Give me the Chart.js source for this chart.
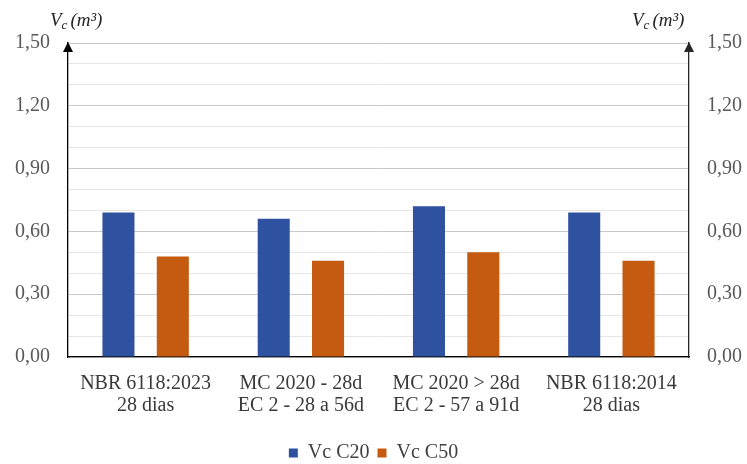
<!DOCTYPE html>
<html>
<head>
<meta charset="utf-8">
<script src="https://cdn.jsdelivr.net/npm/chart.js@4.4.1/dist/chart.umd.min.js"></script>
<style>
  html, body { margin: 0; padding: 0; background: #ffffff; }
  #wrap { width: 747px; height: 464px; }
</style>
</head>
<body>
<div id="wrap"><canvas id="chart" width="747" height="464"></canvas></div>
<script>
// Categories (two-line labels) and the Vc values for each concrete class
const categories = [
  ['NBR 6118:2023', '28 dias'],
  ['MC 2020 - 28d', 'EC 2 - 28 a 56d'],
  ['MC 2020 > 28d', 'EC 2 - 57 a 91d'],
  ['NBR 6118:2014', '28 dias']
];
const vcC20 = [0.69, 0.66, 0.72, 0.69];
const vcC50 = [0.48, 0.46, 0.50, 0.46];
const seriesNames = ['Vc C20', 'Vc C50'];
const axisMin = 0;
const axisMax = 1.5;
const gridStep = 0.10;
const labelStep = 0.30;

const FONT = '"Liberation Serif", "Times New Roman", serif';
const BLUE = '#2e51a0';
const ORANGE = '#c55a11';

function fmtTick(value) {
  const hundredths = Math.round(value * 100);
  if (hundredths % Math.round(labelStep * 100) !== 0) return '';
  return (hundredths / 100).toFixed(2).replace('.', ',');
}

// Fixed tick positions every gridStep (labels only every labelStep)
function fixedTicks(scale) {
  const n = Math.round((axisMax - axisMin) / gridStep);
  const ticks = [];
  for (let i = 0; i <= n; i++) ticks.push({ value: +(axisMin + i * gridStep).toFixed(2) });
  scale.ticks = ticks;
}

// Arrowheads on both vertical axes and the italic "Vc (m³)" titles above them
const axisDecor = {
  id: 'axisDecor',
  afterDraw(chart) {
    const { ctx, chartArea } = chart;
    const top = chartArea.top;
    ctx.save();
    [[chartArea.left, '#000000'], [chartArea.right, '#262626']].forEach(([x, c]) => {
      ctx.fillStyle = c;
      ctx.beginPath();
      ctx.moveTo(x, top - 1);
      ctx.lineTo(x - 5, top + 9);
      ctx.lineTo(x + 5, top + 9);
      ctx.closePath();
      ctx.fill();
    });
    function title(xStart, yBase) {
      ctx.fillStyle = '#262626';
      ctx.textBaseline = 'alphabetic';
      ctx.textAlign = 'left';
      ctx.font = 'italic 19px ' + FONT;
      ctx.fillText('V', xStart, yBase);
      let x = xStart + ctx.measureText('V').width;
      ctx.font = 'italic 13px ' + FONT;
      ctx.fillText('c', x, yBase + 3);
      x += ctx.measureText('c').width + 3;
      ctx.font = 'italic 19px ' + FONT;
      ctx.fillText('(m³)', x, yBase);
    }
    title(chartArea.left - 18, 26);
    title(chartArea.right - 57, 26);
    ctx.restore();
  }
};

const tickFont = { family: FONT, size: 20 };

new Chart(document.getElementById('chart'), {
  type: 'bar',
  data: {
    labels: categories,
    datasets: [
      { label: seriesNames[0], data: vcC20, backgroundColor: BLUE, yAxisID: 'y' },
      { label: seriesNames[1], data: vcC50, backgroundColor: ORANGE, yAxisID: 'y' }
    ]
  },
  options: {
    responsive: false,
    animation: false,
    devicePixelRatio: 1,
    categoryPercentage: 0.70,
    barPercentage: 0.59,
    layout: { padding: { top: 43, bottom: -9, left: 0, right: 0 } },
    plugins: {
      tooltip: { enabled: false },
      legend: {
        position: 'bottom',
        labels: {
          font: { family: FONT, size: 20 },
          color: '#404040',
          boxWidth: 9,
          boxHeight: 9,
          padding: 8
        }
      }
    },
    scales: {
      x: {
        grid: { display: false },
        border: { display: true, color: '#000000', width: 1.3 },
        ticks: { font: { family: FONT, size: 20, lineHeight: 1.1 }, color: '#3a3a3a', padding: 8, maxRotation: 0, autoSkip: false },
        afterFit(scale) { scale.height = 78; }
      },
      y: {
        position: 'left',
        min: axisMin,
        max: axisMax,
        afterBuildTicks: fixedTicks,
        grid: {
          drawTicks: false,
          color(ctx) {
            const h = Math.round(ctx.tick.value * 100);
            return h % 30 === 0 ? '#c9c9c9' : '#e6e6e6';
          }
        },
        border: { display: true, color: '#000000', width: 1.3 },
        ticks: { font: tickFont, color: '#595959', padding: 18, autoSkip: false, callback: fmtTick },
        afterFit(scale) { scale.width = 68; }
      },
      y2: {
        position: 'right',
        min: axisMin,
        max: axisMax,
        afterBuildTicks: fixedTicks,
        grid: { display: false, drawTicks: false },
        border: { display: true, color: '#262626', width: 1.3 },
        ticks: { font: tickFont, color: '#595959', padding: 18, autoSkip: false, callback: fmtTick },
        afterFit(scale) { scale.width = 58; }
      }
    }
  },
  plugins: [axisDecor]
});
</script>
</body>
</html>
